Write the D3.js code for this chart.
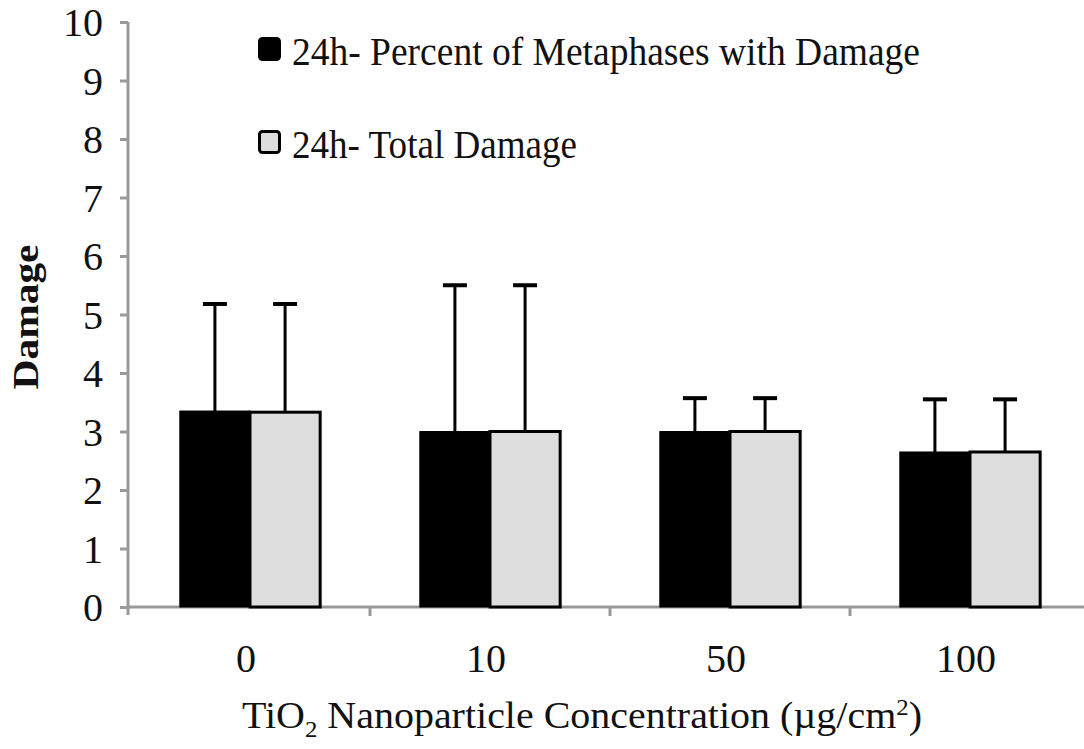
<!DOCTYPE html>
<html>
<head>
<meta charset="utf-8">
<script src="https://cdn.jsdelivr.net/npm/d3@7"></script>
<style>
  body { margin: 0; background: #fff; }
</style>
</head>
<body>
<div id="chart-area"></div>
<script>
// data
var categories = ["0", "10", "50", "100"];
var seriesNames = ["24h- Percent of Metaphases with Damage", "24h- Total Damage"];
var percentDamage = [3.35, 3.0, 3.0, 2.65];
var percentErr = [5.18, 5.5, 3.57, 3.55];
var totalDamage = [3.33, 3.0, 3.0, 2.65];
var totalErr = [5.18, 5.5, 3.57, 3.55];
var yTicks = [0, 1, 2, 3, 4, 5, 6, 7, 8, 9, 10];

var colors = ["#000000", "#dedede"];
var serif = "'Liberation Serif'";

var margin = { left: 128, right: 0, top: 22, bottom: 142 };
var width = 1084 - margin.left - margin.right,
    height = 749 - margin.top - margin.bottom;

var svg = d3.select("#chart-area")
    .append("svg")
    .attr("width", 1084)
    .attr("height", 749)
    .append("g")
    .attr("transform", "translate(" + margin.left + ", " + margin.top + ")");

// scales
var x0 = d3.scaleBand()
    .domain(categories)
    .range([2, 962])
    .paddingInner(0)
    .paddingOuter(0);

var x1 = d3.scaleBand()
    .domain([0, 1])
    .range([0, x0.bandwidth()])
    .paddingOuter(0.71);

var y = d3.scaleLinear()
    .domain([0, 10])
    .range([height, 0]);

// Y axis
var yAxis = svg.append("g")
    .call(d3.axisLeft(y).tickValues(yTicks).tickSize(8).tickPadding(17));
yAxis.select(".domain").attr("stroke", "#999").attr("stroke-width", 3)
    .attr("d", "M0," + (height + 8) + "V0");
yAxis.selectAll(".tick line").attr("stroke", "#999").attr("stroke-width", 3);
yAxis.selectAll(".tick text")
    .style("font-family", serif)
    .style("font-size", "40px")
    .attr("fill", "#111")
    .attr("dy", "0.34em");

// X axis
var xAxis = svg.append("g")
    .attr("transform", "translate(0," + height + ")")
    .call(d3.axisBottom(x0).tickSize(0).tickPadding(37));
xAxis.select(".domain").attr("stroke", "#999").attr("stroke-width", 3)
    .attr("d", "M0,0H" + width);
xAxis.selectAll(".tick text")
    .style("font-family", serif)
    .style("font-size", "40px")
    .attr("fill", "#111")
    .attr("dx", "-0.1em");

// separators between categories
svg.append("g").selectAll("line")
    .data(categories.slice(1))
    .enter().append("line")
    .attr("x1", function(d){ return x0(d); })
    .attr("x2", function(d){ return x0(d); })
    .attr("y1", height)
    .attr("y2", height + 9)
    .attr("stroke", "#999")
    .attr("stroke-width", 3);

// error bars first, bars drawn on top
var groups = svg.selectAll(".group")
    .data(categories)
    .enter().append("g")
    .attr("class", "group")
    .attr("transform", function(d){ return "translate(" + x0(d) + ",0)"; });

var capW = 24;
groups.each(function(d, i){
    var g = d3.select(this);
    var vals = [percentDamage[i], totalDamage[i]];
    var errs = [percentErr[i], totalErr[i]];
    [0, 1].forEach(function(s){
        var cx = x1(s) + x1.bandwidth() / 2;
        g.append("line")
            .attr("x1", cx).attr("x2", cx)
            .attr("y1", y(vals[s])).attr("y2", y(errs[s]))
            .attr("stroke", "#000").attr("stroke-width", 3);
        g.append("line")
            .attr("x1", cx - capW / 2).attr("x2", cx + capW / 2)
            .attr("y1", y(errs[s])).attr("y2", y(errs[s]))
            .attr("stroke", "#000").attr("stroke-width", 4);
    });
    [0, 1].forEach(function(s){
        g.append("rect")
            .attr("x", x1(s))
            .attr("y", y(vals[s]))
            .attr("width", x1.bandwidth())
            .attr("height", height - y(vals[s]))
            .attr("fill", colors[s])
            .attr("stroke", "#000")
            .attr("stroke-width", s == 0 ? 1 : 3);
    });
});

// Legend
var legend = svg.append("g")
    .attr("transform", "translate(" + (258 - margin.left) + "," + (37 - margin.top) + ")");

var legendWidths = [628, 285];
seriesNames.forEach(function(name, i){
    var row = legend.append("g")
        .attr("transform", "translate(0," + (i * 93) + ")");
    row.append("rect")
        .attr("x", 1.5).attr("y", 1.5)
        .attr("width", 20).attr("height", 21)
        .attr("rx", 3)
        .attr("fill", colors[i])
        .attr("stroke", "#000")
        .attr("stroke-width", 3);
    row.append("text")
        .attr("x", 34)
        .attr("y", 28)
        .style("font-family", serif)
        .style("font-size", "40px")
        .attr("fill", "#111")
        .attr("textLength", legendWidths[i])
        .attr("lengthAdjust", "spacingAndGlyphs")
        .text(name);
});

// Axis labels
svg.append("text")
    .attr("transform", "rotate(-90)")
    .attr("x", -(317 - margin.top))
    .attr("y", 38 - margin.left)
    .style("font-family", serif)
    .style("font-size", "35px")
    .style("font-weight", "bold")
    .attr("text-anchor", "middle")
    .attr("fill", "#111")
    .attr("textLength", 145)
    .attr("lengthAdjust", "spacingAndGlyphs")
    .text("Damage");

var xLabel = svg.append("text")
    .attr("x", 242 - margin.left)
    .attr("y", 728 - margin.top)
    .style("font-family", serif)
    .style("font-size", "37px")
    .attr("fill", "#111")
    .attr("textLength", 680)
    .attr("lengthAdjust", "spacingAndGlyphs");
xLabel.append("tspan").text("TiO");
xLabel.append("tspan").style("font-size", "23px").attr("dy", 9).text("2");
xLabel.append("tspan").attr("dy", -9).text(" Nanoparticle Concentration (\u00b5g/cm");
xLabel.append("tspan").style("font-size", "23px").attr("dy", -13).text("2");
xLabel.append("tspan").attr("dy", 13).text(")");
</script>
</body>
</html>
